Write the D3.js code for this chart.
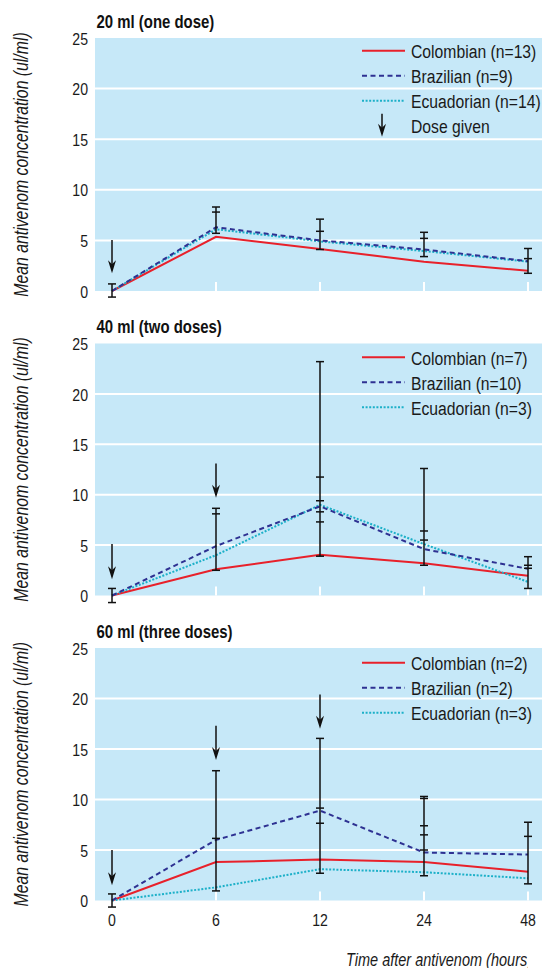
<!DOCTYPE html>
<html><head><meta charset="utf-8">
<script src="https://cdn.jsdelivr.net/npm/d3@7"></script>
<style>
html,body{margin:0;padding:0;background:#fff;}
svg{display:block;}
text{font-family:"Liberation Sans",Arial,Helvetica,sans-serif;fill:#1a1a1a;}
</style></head>
<body>
<svg id="chart" width="542" height="968"></svg>
<script>
// ---------- data ----------
const times = ["0", "6", "12", "24", "48"];
const yTicks = [0, 5, 10, 15, 20, 25];
const panelTitles = ["20 ml (one dose)", "40 ml (two doses)", "60 ml (three doses)"];
const seriesNames = ["Colombian", "Brazilian", "Ecuadorian"];
const legendLabels = [
  ["Colombian (n=13)", "Brazilian (n=9)", "Ecuadorian (n=14)"],
  ["Colombian (n=7)", "Brazilian (n=10)", "Ecuadorian (n=3)"],
  ["Colombian (n=2)", "Brazilian (n=2)", "Ecuadorian (n=3)"]
];
const colombian = [
  [0, 5.35, 4.15, 2.9, 2.0],
  [0, 2.6, 4.05, 3.2, 1.95],
  [0, 3.8, 4.05, 3.8, 2.85]
];
const brazilian = [
  [0, 6.3, 5.0, 4.1, 2.95],
  [0, 4.9, 8.85, 4.6, 2.65],
  [0, 6.0, 8.9, 4.75, 4.55]
];
const ecuadorian = [
  [0, 6.1, 4.9, 3.95, 2.9],
  [0, 4.0, 9.0, 5.1, 1.35],
  [0, 1.3, 3.1, 2.8, 2.2]
];
// error-bar cap values (per panel, per time point)
const errorCaps = [
  [[-0.6, 0.7], [5.7, 7.8, 8.3], [4.1, 5.9, 7.1], [3.4, 5.2, 5.8], [1.75, 3.2, 4.2]],
  [[-0.7, 0.7], [2.5, 8.1, 8.65], [3.9, 7.3, 8.3, 9.4, 11.75, 23.2], [3.0, 5.5, 6.4, 12.6], [0.7, 2.7, 3.0, 3.85]],
  [[-0.65, 0.65], [0.95, 6.15, 12.85], [2.7, 7.65, 9.15, 16.05], [2.45, 5.0, 6.5, 7.4, 10.1, 10.3], [1.65, 6.35, 7.75]]
];
// dose-given arrows: [time, top value, tip value]
const doseArrows = [
  [["0", 5.05, 1.75]],
  [["0", 5.1, 1.6], ["6", 13.1, 9.7]],
  [["0", 5.0, 1.5], ["6", 17.3, 13.9], ["12", 20.4, 17.0]]
];
const doseLabel = "Dose given";
const yAxisLabel = "Mean antivenom concentration (ul/ml)";
const xAxisLabel = "Time after antivenom (hours)";

// ---------- layout ----------
const colors = {Colombian: "#e8212b", Brazilian: "#2e3192", Ecuadorian: "#1cb0c8"};
const dashes = {Colombian: null, Brazilian: "5,3.5", Ecuadorian: "2,1.6"};
const panels = [
  {top: 38, bottom: 291, legY: 50.7},
  {top: 343.5, bottom: 595.5, legY: 357.3},
  {top: 648, bottom: 900.5, legY: 662.7}
];
const legX = 362;
const bgLeft = 95, bgRight = 542;
const SX = 0.83; // horizontal condensing of type (Helvetica Condensed look)
const x = d3.scalePoint().domain(times).range([112, 528]);

const svg = d3.select("#chart");
const defs = svg.append("defs");
defs.append("clipPath").attr("id", "pageclip").append("rect")
  .attr("x", 0).attr("y", 0).attr("width", 527.6).attr("height", 968);

function ctext(g, px, py, s, o = {}) {
  const t = g.append("text")
    .attr("transform", `translate(${px},${py})${o.rotate ? ` rotate(${o.rotate})` : ""} scale(${o.sx || SX},1)`)
    .attr("font-size", o.size || 17)
    .attr("text-anchor", o.anchor || "start")
    .text(s);
  if (o.weight) t.attr("font-weight", o.weight);
  if (o.style) t.attr("font-style", o.style);
  if (o.fill) t.style("fill", o.fill);
  return t;
}

panels.forEach((p, i) => {
  const y = d3.scaleLinear().domain([0, 25]).range([p.bottom, p.top]);
  const g = svg.append("g");

  g.append("rect").attr("x", bgLeft).attr("y", p.top).attr("width", bgRight - bgLeft)
    .attr("height", p.bottom - p.top).attr("fill", "#c6e8f8");

  // gridlines
  g.selectAll("line.grid").data(yTicks.filter(t => t > 0 && t < 25)).join("line")
    .attr("x1", bgLeft).attr("x2", bgRight).attr("y1", d => y(d)).attr("y2", d => y(d))
    .attr("stroke", "#fff").attr("stroke-width", 2);

  // white x ticks at bottom
  g.selectAll("line.xt").data(times.slice(1)).join("line")
    .attr("x1", d => x(d)).attr("x2", d => x(d)).attr("y1", p.bottom - 9).attr("y2", p.bottom)
    .attr("stroke", "#fff").attr("stroke-width", 2);

  // y axis labels
  const yAxis = d3.axisLeft(y).tickValues(yTicks).tickSize(0).tickPadding(0);
  const ya = g.append("g").attr("transform", `translate(88,0)`).call(yAxis);
  ya.select(".domain").remove();
  ya.selectAll("text").attr("font-size", 17).attr("font-family", null).attr("fill", null)
    .attr("dy", "0.36em").attr("transform", `scale(${SX},1)`);

  // title
  ctext(g, 96.5, p.top - 10.5, panelTitles[i], {size: 18, weight: "bold", fill: "#111"});

  // y label
  ctext(g, 28, (p.top + p.bottom) / 2, yAxisLabel,
    {size: 19.3, style: "italic", anchor: "middle", rotate: -90, sx: 0.82});

  // lines
  const data = {Colombian: colombian[i], Brazilian: brazilian[i], Ecuadorian: ecuadorian[i]};
  const line = d3.line().x((d, j) => x(times[j])).y(d => y(d));
  ["Colombian", "Ecuadorian", "Brazilian"].forEach(s => {
    g.append("path").datum(data[s]).attr("d", line).attr("fill", "none")
      .attr("stroke", colors[s]).attr("stroke-width", 2)
      .attr("stroke-dasharray", dashes[s]);
  });

  // error bars
  errorCaps[i].forEach((caps, j) => {
    const cx = x(times[j]);
    g.append("line").attr("x1", cx).attr("x2", cx)
      .attr("y1", y(d3.min(caps))).attr("y2", y(d3.max(caps)))
      .attr("stroke", "#111").attr("stroke-width", 1.5);
    g.selectAll(null).data(caps).join("line")
      .attr("x1", cx - 4).attr("x2", cx + 4).attr("y1", d => y(d)).attr("y2", d => y(d))
      .attr("stroke", "#111").attr("stroke-width", 1.5);
  });

  // dose arrows
  const arrow = (ax, y1, y2) => {
    g.append("line").attr("x1", ax).attr("x2", ax).attr("y1", y1).attr("y2", y2 - 8)
      .attr("stroke", "#111").attr("stroke-width", 1.5);
    g.append("path").attr("d", `M${ax - 4},${y2 - 13} L${ax},${y2 - 9} L${ax + 4},${y2 - 13} L${ax},${y2} Z`)
      .attr("fill", "#111");
  };
  doseArrows[i].forEach(a => arrow(x(a[0]), y(a[1]), y(a[2])));

  // legend
  seriesNames.forEach((s, k) => {
    const ly = p.legY + k * 25;
    g.append("line").attr("x1", legX).attr("x2", legX + 43).attr("y1", ly).attr("y2", ly)
      .attr("stroke", colors[s]).attr("stroke-width", 2).attr("stroke-dasharray", dashes[s]);
    ctext(g, legX + 49, ly + 7.5, legendLabels[i][k], {size: 18.5, sx: 0.85});
  });
  if (i === 0) {
    const ly = p.legY + 3 * 25;
    arrow(382, ly - 12, ly + 11);
    ctext(g, legX + 49, ly + 7.5, doseLabel, {size: 18.5, sx: 0.85});
  }

  // x tick labels on last panel
  if (i === panels.length - 1) {
    times.forEach(t => ctext(g, x(t), p.bottom + 25, t, {size: 17, anchor: "middle"}));
  }
});

const xl = svg.append("g").attr("clip-path", "url(#pageclip)");
ctext(xl, 346, 966, xAxisLabel, {size: 17.7, style: "italic", sx: 0.82});
</script>
</body></html>
